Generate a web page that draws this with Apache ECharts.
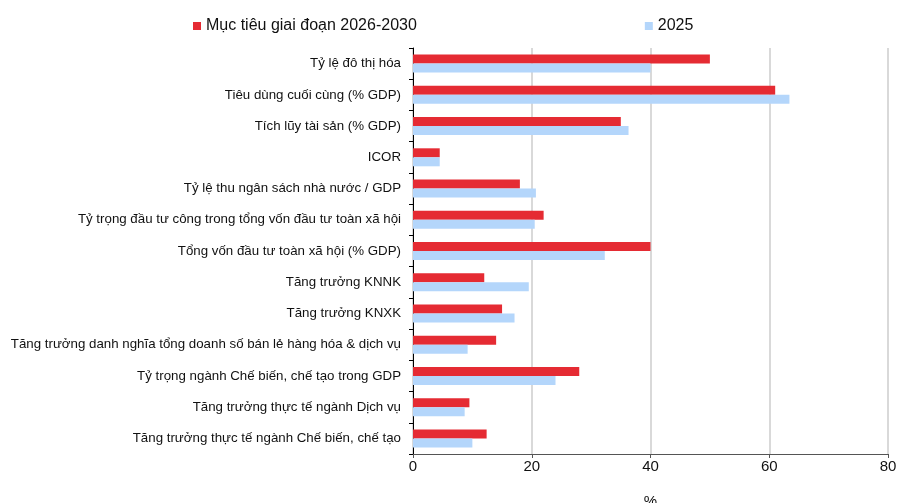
<!DOCTYPE html>
<html>
<head>
<meta charset="utf-8">
<script src="https://cdn.jsdelivr.net/npm/echarts@6/dist/echarts.min.js"></script>
<style>
  html, body { margin: 0; padding: 0; background: #fff; }
  #chart { width: 898px; height: 503px; }
</style>
</head>
<body>
<div id="chart"></div>
<script>
  // danh muc (tu tren xuong duoi)
  const categories = [
    'Tỷ lệ đô thị hóa',
    'Tiêu dùng cuối cùng (% GDP)',
    'Tích lũy tài sản (% GDP)',
    'ICOR',
    'Tỷ lệ thu ngân sách nhà nước / GDP',
    'Tỷ trọng đầu tư công trong tổng vốn đầu tư toàn xã hội',
    'Tổng vốn đầu tư toàn xã hội (% GDP)',
    'Tăng trưởng KNNK',
    'Tăng trưởng KNXK',
    'Tăng trưởng danh nghĩa tổng doanh số bán lẻ hàng hóa & dịch vụ',
    'Tỷ trọng ngành Chế biến, chế tạo trong GDP',
    'Tăng trưởng thực tế ngành Dịch vụ',
    'Tăng trưởng thực tế ngành Chế biến, chế tạo'
  ]
  const target2630 = [50, 61, 35, 4.5, 18, 22, 40, 12, 15, 14, 28, 9.5, 12.4]
  const actual2025 = [40, 63.4, 36.3, 4.5, 20.7, 20.5, 32.3, 19.5, 17.1, 9.2, 24, 8.7, 10]
  const xTicks = [0, 20, 40, 60, 80]

  const fontFamily = 'Liberation Sans, Arial, sans-serif'
  const mychart = echarts.init(document.getElementById('chart'))
  mychart.setOption({
    animation: false,
    textStyle: { fontFamily: fontFamily },
    legend: {
      left: 188,
      top: 13,
      itemWidth: 8,
      itemHeight: 8,
      itemGap: 228,
      icon: 'rect',
      textStyle: { fontSize: 16, color: '#111', fontFamily: fontFamily },
      data: ['Mục tiêu giai đoạn 2026-2030', '2025']
    },
    grid: { left: 413, right: 10, top: 48, bottom: 49, outerBoundsMode: 'none', containLabel: false },
    xAxis: {
      type: 'value',
      min: xTicks[0],
      max: xTicks[xTicks.length - 1],
      interval: 20,
      name: '%',
      nameLocation: 'middle',
      nameGap: 40,
      nameTextStyle: { fontSize: 15, color: '#111' },
      axisLine: { show: true, lineStyle: { color: '#555', width: 1 } },
      axisTick: { show: true, length: 4, lineStyle: { color: '#555' } },
      axisLabel: { fontSize: 15, color: '#111', margin: 5 },
      splitLine: { show: true, lineStyle: { color: '#d9d9d9', width: 2 } }
    },
    yAxis: {
      type: 'category',
      inverse: true,
      data: categories,
      axisLine: { show: true, lineStyle: { color: '#000', width: 1 } },
      axisTick: { show: true, length: 4, lineStyle: { color: '#000' } },
      axisLabel: { fontSize: 13.3, color: '#111', margin: 12, padding: [4, 0, 0, 0] },
      splitLine: { show: false }
    },
    series: [
      {
        name: 'Mục tiêu giai đoạn 2026-2030',
        type: 'bar',
        barWidth: 9,
        barGap: '0%',
        itemStyle: { color: '#E52B33' },
        data: target2630
      },
      {
        name: '2025',
        type: 'bar',
        barWidth: 9,
        barGap: '0%',
        itemStyle: { color: '#B4D6FB' },
        data: actual2025
      }
    ]
  })
</script>
</body>
</html>
